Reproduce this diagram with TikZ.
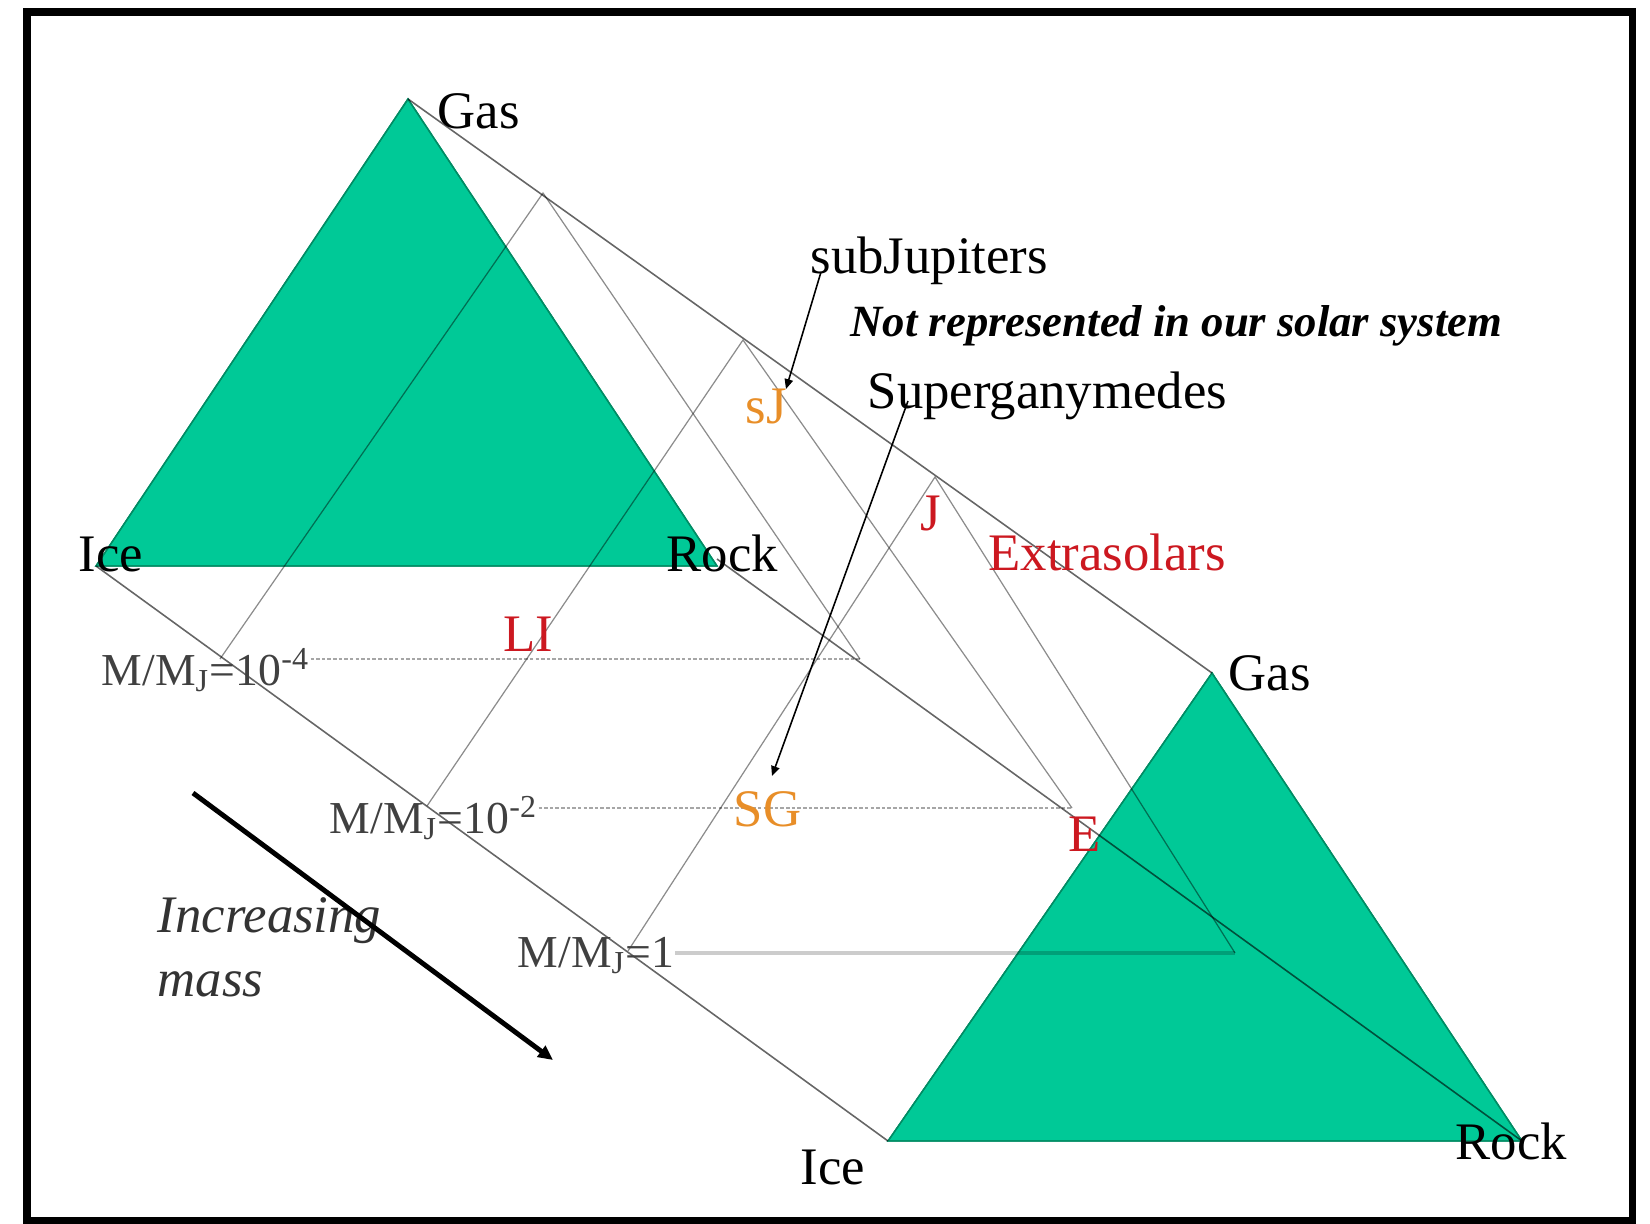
\documentclass[tikz,border=0pt]{standalone}
\usepackage{fontspec}
\setmainfont{Liberation Serif}
\usetikzlibrary{arrows.meta}
\definecolor{cfill}{RGB}{0,201,151}
\definecolor{cedge}{RGB}{0,140,100}
\definecolor{cred}{RGB}{204,24,32}
\definecolor{corange}{RGB}{232,142,40}
\newcommand{\Red}[1]{\textcolor{cred}{#1}}
\newcommand{\Org}[1]{\textcolor{corange}{#1}}
\tikzset{
  lbl/.style={anchor=base west, inner sep=0pt, font=\fontsize{15}{18}\selectfont},
  mlbl/.style={lbl, text=black!75, font=\fontsize{13}{15}\selectfont},
  tern/.style={fill=cfill, draw=cedge, line width=0.4pt},
  edge/.style={draw=black, draw opacity=0.6, line width=0.45pt},
  cut/.style={draw=black, draw opacity=0.45, line width=0.35pt},
  dcut/.style={draw=black, draw opacity=0.35, line width=0.6pt, dash pattern=on 1pt off 0.6pt},
  ptr/.style={draw=black, line width=0.45pt, -{Triangle[length=2.8pt,width=2.4pt]}}
}

\begin{document}
\begin{tikzpicture}[x=0.01cm,y=-0.01cm]
  \useasboundingbox (0,0) rectangle (1650,1224);
  \draw[line width=0.07cm] (27,12) rectangle (1632,1220);

  % end triangles
  \coordinate (g1) at (408,99);
  \coordinate (i1) at (96,566);
  \coordinate (r1) at (717,566);
  \coordinate (r1e) at (717,559);
  \coordinate (g2) at (1212,673);
  \coordinate (i2) at (888,1141);
  \coordinate (r2) at (1522,1141);
  % cuts
  \coordinate (ga) at (543,193);
  \coordinate (ia) at (220,659);
  \coordinate (ra) at (860,659);
  \coordinate (gb) at (743,340);
  \coordinate (ib) at (427,806);
  \coordinate (rb) at (1072,808);
  \coordinate (gc) at (935,477);
  \coordinate (ic) at (628,951);
  \coordinate (rc) at (1235,953);

  \fill[tern] (i1) -- (g1) -- (r1) -- cycle;
  \fill[tern] (i2) -- (g2) -- (r2) -- cycle;
  \draw[tern, fill=none] (i1) -- (g1) -- (r1) -- cycle;
  \draw[tern, fill=none] (i2) -- (g2) -- (r2) -- cycle;

  \draw[edge] (g1) -- (g2);
  \draw[edge] (i1) -- (i2);
  \draw[edge] (r1e) -- (r2);

  \draw[cut] (ia) -- (ga) -- (ra);
  \draw[cut] (ib) -- (gb) -- (rb);
  \draw[cut] (ic) -- (gc) -- (rc);

  % labels
  \node[lbl] (lgas1) at (437,129) {Gas};
  \node[lbl] (lice1) at (78,571) {Ice};
  \node[lbl] (lrock1) at (666,571) {Rock};
  \node[lbl] (lgas2) at (1228,690) {Gas};
  \node[lbl] (lice2) at (800,1184) {Ice};
  \node[lbl] (lrock2) at (1455,1159) {Rock};

  \node[mlbl] (m4) at (101,685) {M/M\textsubscript{J}=10\textsuperscript{-4}};
  \node[mlbl] (m2) at (329,833) {M/M\textsubscript{J}=10\textsuperscript{-2}};
  \node[mlbl] (m0) at (517,967) {M/M\textsubscript{J}=1};
  \draw[dcut] (m4.east |- ra) -- (ra);
  \draw[dcut] (m2.east |- rb) -- (rb);
  \draw[draw=black, draw opacity=0.2, line width=1pt] (m0.east |- rc) -- (rc);

  \node[lbl] (lsub) at (810,274) {subJupiters};
  \node[lbl, font=\fontsize{12.7}{15}\selectfont\bfseries\itshape] (lnot) at (850,336)
    {Not represented in our solar system};
  \node[lbl] (lsg) at (867,408) {Superganymedes};
  \node[lbl] (lextra) at (988,570) {\Red{Extrasolars}};

  \node[lbl] (nsj) at (745,423) {\Org{sJ}};
  \node[lbl] (nsg) at (733,826) {\Org{SG}};
  \node[lbl] (nj) at (920,530) {\Red{J}};
  \node[lbl] (nli) at (503,651) {\Red{LI}};
  \node[lbl] (ne) at (1068,851) {\Red{E}};

  \coordinate (subfoot) at (821,272);
  \coordinate (sjtip) at (786,389);
  \coordinate (sgfoot) at (908,401);
  \coordinate (sgtip) at (772,776);
  \draw[ptr] (subfoot) -- (sjtip);
  \draw[ptr] (sgfoot) -- (sgtip);

  % mass direction
  \node[lbl, text=black!80, font=\fontsize{15}{18}\selectfont\itshape] (linc) at (157,932) {Increasing};
  \node[lbl, text=black!80, font=\fontsize{15}{18}\selectfont\itshape] (lmass) at (157,996) {mass};
  \coordinate (ms) at (193,793);
  \coordinate (me) at (553,1060);
  \draw[line width=1.4pt, -{Triangle[length=4.2pt,width=3.8pt]}] (ms) -- (me);
\end{tikzpicture}
\end{document}
